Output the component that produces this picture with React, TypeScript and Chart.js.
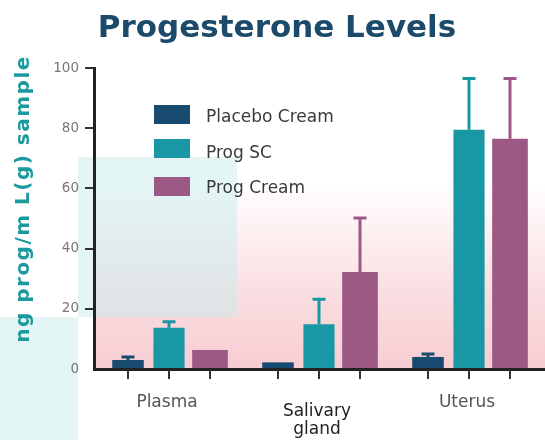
import { useEffect, useRef } from 'react';
import { Chart, registerables } from 'chart.js';

Chart.register(...registerables);

const categories = ['Plasma', 'Salivary gland', 'Uterus'];
const seriesNames = ['Placebo Cream', 'Prog SC', 'Prog Cream'];
const placeboValues = [3, 2.2, 4];
const placeboErrors = [1, 0, 1];
const progScValues = [13.7, 14.9, 79.5];
const progScErrors = [2, 8.3, 17];
const progCreamValues = [6.3, 32.2, 76.5];
const progCreamErrors = [0, 18, 20];
const yTickValues = [0, 20, 40, 60, 80, 100];

const COLORS = ['#184b6f', '#1a97a5', '#9d5985'];
const FONT = '"DejaVu Sans", sans-serif';

const decorPlugin = {
  id: 'decor',
  beforeDraw(chart: any) {
    const { ctx, chartArea: a, width } = chart;
    ctx.save();
    const g = ctx.createLinearGradient(0, a.bottom, 0, a.top);
    g.addColorStop(0, 'rgb(247,205,210)');
    g.addColorStop(0.25, 'rgb(250,222,225)');
    g.addColorStop(0.5, 'rgb(254,244,245)');
    g.addColorStop(0.62, 'rgb(255,255,255)');
    g.addColorStop(1, 'rgb(255,255,255)');
    ctx.fillStyle = g;
    ctx.fillRect(a.left, a.top, width - a.left, a.bottom - a.top);
    ctx.fillStyle = 'rgba(200,236,236,0.5)';
    ctx.fillRect(78, 157, 159, 160);
    ctx.fillRect(0, 317, 78, 123);
    ctx.restore();
  },
  afterDatasetsDraw(chart: any) {
    const { ctx } = chart;
    const yScale = chart.scales.y;
    ctx.save();
    chart.data.datasets.forEach((ds: any, i: number) => {
      const meta = chart.getDatasetMeta(i);
      meta.data.forEach((bar: any, j: number) => {
        const err = ds.errors[j];
        if (!err) return;
        const yTop = yScale.getPixelForValue(ds.data[j] + err);
        ctx.strokeStyle = ds.backgroundColor;
        ctx.lineWidth = 3;
        ctx.beginPath();
        ctx.moveTo(bar.x, bar.y);
        ctx.lineTo(bar.x, yTop);
        ctx.moveTo(bar.x - 6.5, yTop);
        ctx.lineTo(bar.x + 6.5, yTop);
        ctx.stroke();
      });
    });
    ctx.restore();
  },
  afterDraw(chart: any) {
    const { ctx, chartArea: a } = chart;
    const xScale = chart.scales.x;
    ctx.save();
    // tick marks under each bar
    ctx.strokeStyle = '#333';
    ctx.lineWidth = 2;
    chart.data.datasets.forEach((_ds: any, i: number) => {
      chart.getDatasetMeta(i).data.forEach((bar: any) => {
        ctx.beginPath();
        ctx.moveTo(Math.round(bar.x), a.bottom + 1);
        ctx.lineTo(Math.round(bar.x), a.bottom + 10);
        ctx.stroke();
      });
    });
    // category labels
    ctx.font = `17px ${FONT}`;
    ctx.textAlign = 'center';
    ctx.textBaseline = 'alphabetic';
    chart.data.labels.forEach((lab: any, j: number) => {
      const x = xScale.getPixelForValue(j) - 2;
      const words = String(lab).split(' ');
      if (words.length > 1) {
        ctx.fillStyle = '#222';
        ctx.fillText(words[0], x, a.bottom + 47);
        ctx.fillText(words.slice(1).join(' '), x, a.bottom + 65);
      } else {
        ctx.fillStyle = '#555';
        ctx.fillText(String(lab), x, a.bottom + 38);
      }
    });
    // legend
    const boxTops = [105, 139, 177];
    const baselines = [122, 158, 193];
    ctx.textAlign = 'left';
    chart.data.datasets.forEach((ds: any, i: number) => {
      ctx.fillStyle = ds.backgroundColor;
      ctx.fillRect(154, boxTops[i], 36, 19);
      ctx.fillStyle = '#3a3a3a';
      ctx.fillText(ds.label, 206, baselines[i]);
    });
    // title
    ctx.fillStyle = '#1b4a6b';
    ctx.font = `bold 31px ${FONT}`;
    ctx.textAlign = 'center';
    ctx.fillText('Progesterone Levels', 277, 37);
    // y axis title
    ctx.translate(24, 199);
    ctx.rotate(-Math.PI / 2);
    ctx.fillStyle = '#1a9a9f';
    ctx.font = `bold 20px ${FONT}`;
    (ctx as any).letterSpacing = '1.5px';
    ctx.textBaseline = 'middle';
    ctx.fillText('ng prog/m L(g) sample', 0, 0);
    ctx.restore();
  },
};

export default function App() {
  const ref = useRef<HTMLCanvasElement | null>(null);
  useEffect(() => {
    if (!ref.current) return;
    const chart = new Chart(ref.current, {
      type: 'bar',
      data: {
        labels: categories,
        datasets: [
          { label: seriesNames[0], data: placeboValues, errors: placeboErrors, backgroundColor: COLORS[0], barPercentage: 0.77, categoryPercentage: 0.82 } as any,
          { label: seriesNames[1], data: progScValues, errors: progScErrors, backgroundColor: COLORS[1], barPercentage: 0.76, categoryPercentage: 0.82 } as any,
          { label: seriesNames[2], data: progCreamValues, errors: progCreamErrors, backgroundColor: COLORS[2], barPercentage: 0.87, categoryPercentage: 0.82 } as any,
        ],
      },
      options: {
        animation: false,
        responsive: true,
        maintainAspectRatio: false,
        layout: { padding: { top: 68, right: 1, left: 0, bottom: 0 } },
        plugins: { legend: { display: false }, tooltip: { enabled: false }, title: { display: false } },
        scales: {
          x: {
            ticks: { display: false },
            grid: { display: false },
            border: { color: '#222', width: 3 },
            afterFit(s: any) { s.height = 71; },
          },
          y: {
            min: 0,
            max: 100,
            afterBuildTicks(s: any) { s.ticks = yTickValues.map((v) => ({ value: v })); },
            ticks: { color: '#777', font: { family: FONT, size: 13.5 }, padding: 6 },
            grid: {
              drawOnChartArea: false,
              drawTicks: true,
              tickLength: 9,
              lineWidth: 2,
              color: (c: any) => (c.tick && c.tick.value === 0 ? 'rgba(0,0,0,0)' : '#333'),
            },
            border: { color: '#222', width: 3 },
            afterFit(s: any) { s.width = 94; },
          },
        },
      },
      plugins: [decorPlugin],
    });
    return () => chart.destroy();
  }, []);
  return (
    <div style={{ position: 'fixed', left: 0, top: 0, width: 545, height: 440, background: '#fff' }}>
      <canvas ref={ref} />
    </div>
  );
}
